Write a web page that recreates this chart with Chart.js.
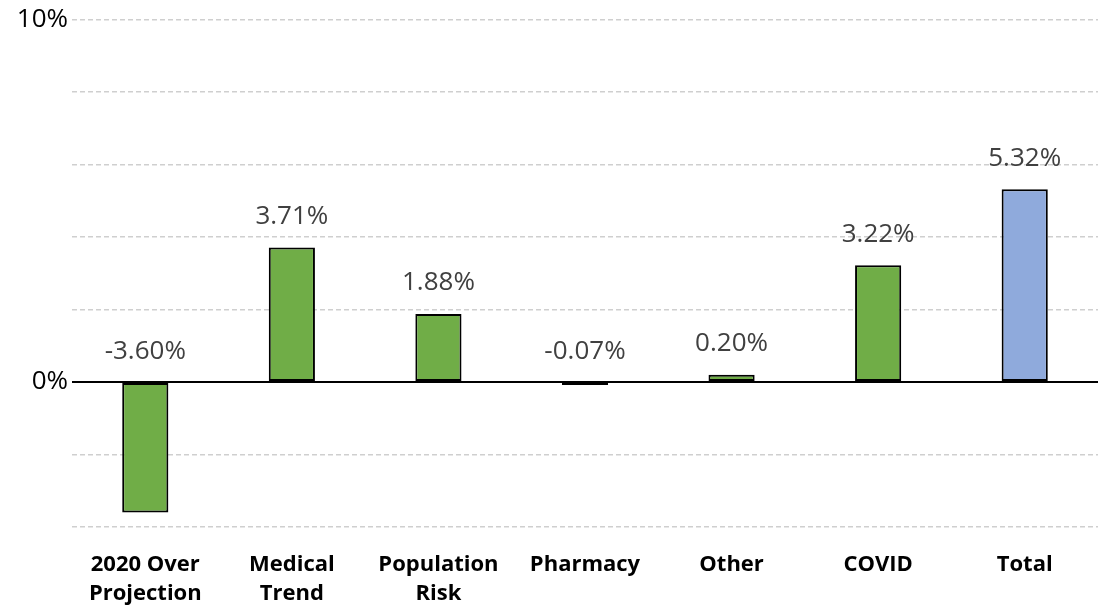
<!DOCTYPE html>
<html>
<head>
<meta charset="utf-8">
<script src="https://cdn.jsdelivr.net/npm/chart.js@4"></script>
<style>
  body { margin: 0; background: #fff; }
  #wrap { width: 1102px; height: 607px; position: relative; }
</style>
</head>
<body>
<div id="wrap"><canvas id="trendChart"></canvas></div>
<script>
// Categorías y valores del gráfico
const categories = [['2020 Over', 'Projection'], ['Medical', 'Trend'], ['Population', 'Risk'], 'Pharmacy', 'Other', 'COVID', 'Total'];
const values = [-3.60, 3.71, 1.88, -0.07, 0.20, 3.22, 5.32];
const barColors = ['#70AD47', '#70AD47', '#70AD47', '#70AD47', '#70AD47', '#70AD47', '#8FAADC'];
const yShownTicks = [0, 10];

// etiquetas de valor encima de cada barra (o encima de la línea de cero si es negativa)
const valueLabels = {
  id: 'valueLabels',
  afterDatasetsDraw(chart) {
    const ctx = chart.ctx;
    const y = chart.scales.y;
    const meta = chart.getDatasetMeta(0);
    ctx.save();
    ctx.font = '26px "Open Sans"';
    ctx.fillStyle = '#404040';
    ctx.textAlign = 'center';
    ctx.textBaseline = 'middle';
    meta.data.forEach((bar, i) => {
      const v = values[i];
      const top = y.getPixelForValue(Math.max(v, 0));
      ctx.fillText(v.toFixed(2) + '%', bar.x, top - (v < 0 ? 30 : 31));
    });
    ctx.restore();
  }
};

const ctx = document.getElementById('trendChart').getContext('2d');
new Chart(ctx, {
  type: 'bar',
  data: {
    labels: categories,
    datasets: [{
      data: values,
      backgroundColor: barColors,
      borderColor: '#000',
      borderWidth: 2,
      borderSkipped: false,
      barPercentage: 0.9,
      categoryPercentage: 0.35,
      minBarLength: 3
    }]
  },
  options: {
    responsive: true,
    maintainAspectRatio: false,
    animation: false,
    layout: { padding: { top: 2, right: 4, left: 0, bottom: 0 } },
    plugins: { legend: { display: false }, tooltip: { enabled: false } },
    scales: {
      x: {
        grid: { display: false, drawTicks: false },
        border: { display: false },
        ticks: {
          color: '#000',
          font: { family: 'Open Sans', size: 22, weight: 'bold', lineHeight: 1.32 },
          padding: 23,
          maxRotation: 0,
          autoSkip: false
        },
        afterFit(scale) { scale.height = 80; }
      },
      y: {
        min: -4,
        max: 10,
        border: {
          display: false,
          dash: c => c.tick && c.tick.value === 0 ? [] : [5, 3]
        },
        grid: {
          drawTicks: false,
          color: c => c.tick && c.tick.value === 0 ? '#000' : '#cfcfcf',
          lineWidth: c => c.tick && c.tick.value === 0 ? 2 : 1.4
        },
        ticks: {
          stepSize: 2,
          color: '#000',
          padding: 4,
          font: { family: 'Open Sans', size: 26 },
          callback: v => yShownTicks.includes(v) ? v + '%' : ''
        },
        afterFit(scale) { scale.width = 72; }
      }
    }
  },
  plugins: [valueLabels]
});
</script>
</body>
</html>
